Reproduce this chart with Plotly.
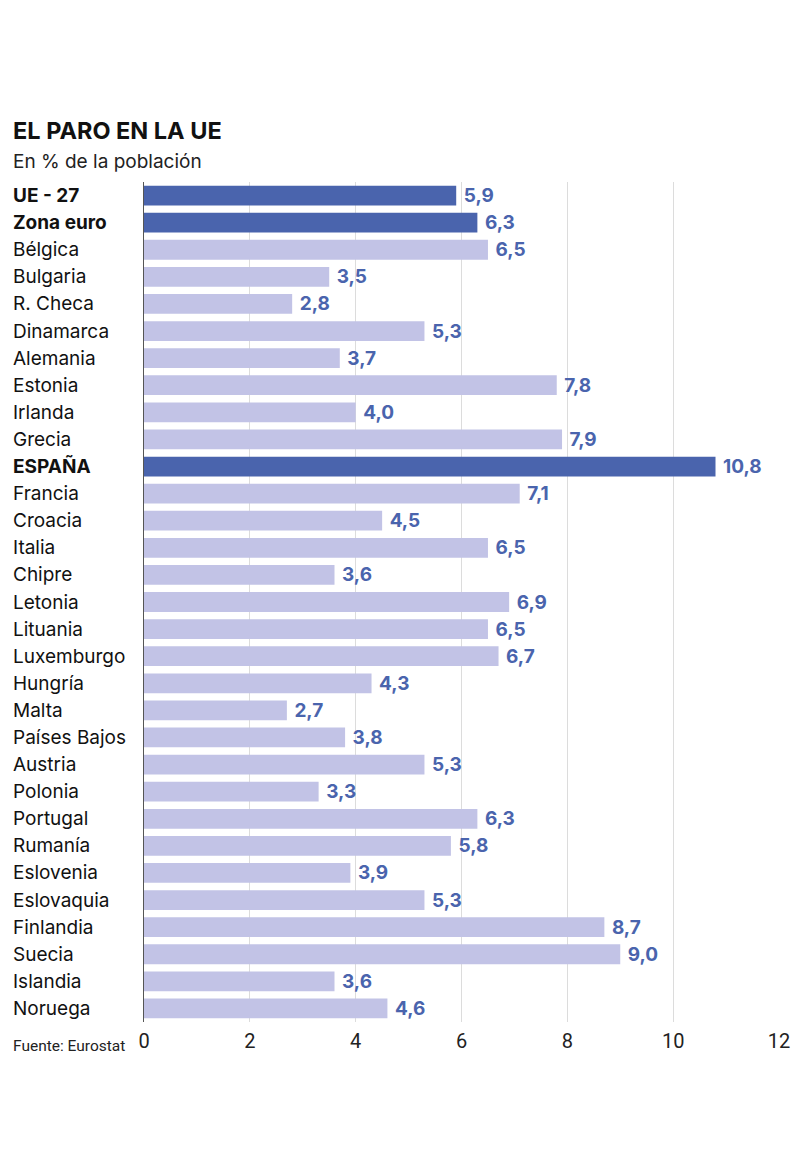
import plotly.graph_objects as go

# data
paises = ["UE - 27", "Zona euro", "Bélgica", "Bulgaria", "R. Checa", "Dinamarca",
          "Alemania", "Estonia", "Irlanda", "Grecia", "ESPAÑA", "Francia", "Croacia",
          "Italia", "Chipre", "Letonia", "Lituania", "Luxemburgo", "Hungría", "Malta",
          "Países Bajos", "Austria", "Polonia", "Portugal", "Rumanía", "Eslovenia",
          "Eslovaquia", "Finlandia", "Suecia", "Islandia", "Noruega"]
paro = [5.9, 6.3, 6.5, 3.5, 2.8, 5.3, 3.7, 7.8, 4.0, 7.9, 10.8, 7.1, 4.5,
        6.5, 3.6, 6.9, 6.5, 6.7, 4.3, 2.7, 3.8, 5.3, 3.3, 6.3, 5.8, 3.9,
        5.3, 8.7, 9.0, 3.6, 4.6]
destacados = ["UE - 27", "Zona euro", "ESPAÑA"]
ticks_x = [0, 2, 4, 6, 8, 10, 12]

OSCURO = "#4a64ad"
CLARO = "#c2c3e6"
FONT = "Inter"

colores = [OSCURO if p in destacados else CLARO for p in paises]
etiquetas = ["\u00a0" + f"{v:.1f}".replace(".", ",") for v in paro]

fig = go.Figure(go.Bar(
    x=paro, y=paises, orientation="h",
    marker=dict(color=colores, line=dict(width=0)),
    text=etiquetas, textposition="outside", cliponaxis=False,
    constraintext="none",
    textfont=dict(family=FONT, size=19, color=OSCURO, weight="bold"),
    hoverinfo="skip",
))

# page has an 8px body margin, so figure coords = screen coords - 8
OFF = 8
W, H = 784, 1155
L, R, T = 144 - OFF, W - (779 - OFF), 182 - OFF
B = H - (1022 - OFF)
pw = W - L - R
ph = H - T - B


def px_y(y):
    return (H - (y - OFF) - B) / ph


x_txt = (11 - 144) / pw

for p in paises:
    txt = f"<b>{p}</b>" if p in destacados else p
    fig.add_annotation(x=x_txt, xref="paper", y=p, yref="y",
                       text=txt, showarrow=False, xanchor="left",
                       font=dict(family=FONT, size=19, color="#111"))

fig.add_annotation(x=x_txt, xref="paper", y=px_y(130), yref="paper",
                   text="<b>EL PARO EN LA UE</b>", showarrow=False, xanchor="left",
                   yanchor="middle", font=dict(family=FONT, size=23.5, color="#111"))
fig.add_annotation(x=x_txt, xref="paper", y=px_y(161), yref="paper",
                   text="En % de la población", showarrow=False, xanchor="left",
                   yanchor="middle", font=dict(family=FONT, size=19, color="#222"))
fig.add_annotation(x=x_txt, xref="paper", y=px_y(1046), yref="paper",
                   text="Fuente: Eurostat", showarrow=False, xanchor="left",
                   yanchor="middle", font=dict(family="Roboto", size=15.5, color="#222"))

fig.update_layout(
    width=W, height=H,
    margin=dict(l=L, r=R, t=T, b=B, autoexpand=False),
    paper_bgcolor="white", plot_bgcolor="white",
    bargap=0.27, showlegend=False,
    xaxis=dict(range=[0, 12], tickvals=ticks_x, showgrid=True, gridcolor="#dcdcdc",
               gridwidth=1, zeroline=False, showline=False, ticks="",
               automargin=False, ticklabelstandoff=5,
               tickfont=dict(family="Roboto", size=20, color="#222")),
    yaxis=dict(autorange="reversed", showticklabels=False, showgrid=False,
               showline=True, linecolor="#555", linewidth=1, zeroline=False,
               automargin=False),
)

fig.write_html("out.html")
